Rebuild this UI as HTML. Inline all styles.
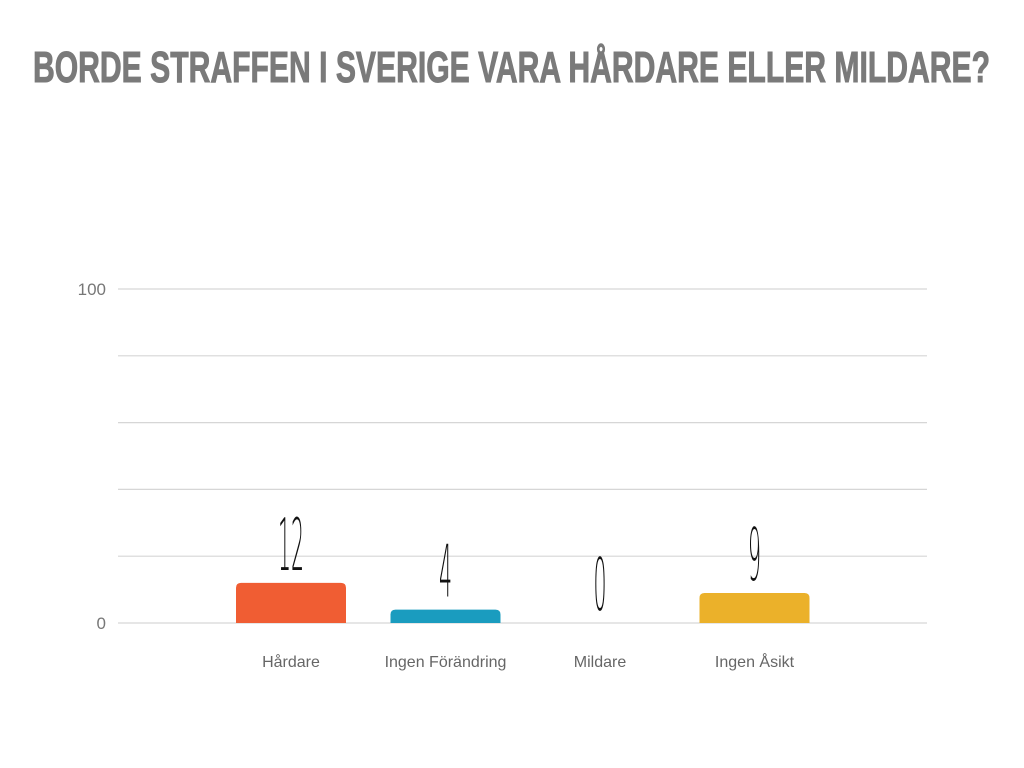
<!DOCTYPE html>
<html><head><meta charset="utf-8"><style>
html,body{margin:0;padding:0;background:#fff;width:1024px;height:768px;overflow:hidden}
</style></head><body>
<svg id="chart" width="1024" height="768" xmlns="http://www.w3.org/2000/svg">
<text x="33" y="82" font-family="'Liberation Sans Narrow','Liberation Sans',sans-serif" font-weight="bold" font-size="44" fill="#7a7a7a" stroke="#7a7a7a" stroke-width="1" textLength="957" lengthAdjust="spacingAndGlyphs">BORDE STRAFFEN I SVERIGE VARA HÅRDARE ELLER MILDARE?</text>
<g id="grid"></g><g id="bars"></g>
</svg>
<script>
const categories=["Hårdare","Ingen Förändring","Mildare","Ingen Åsikt"];
const values=[12,4,0,9];
const colors=["#f05d33","#1a9cbf","#999999","#ebb12a"];
const gridTicks=[0,20,40,60,80,100];
const tickLabels=["0","100"];
const NS="http://www.w3.org/2000/svg";
const svg=document.getElementById('chart');
const y0=623,y100=289;
function y(v){return y0-(v/100)*(y0-y100);}
function x(i){return 291+i*154.5;}
function el(t,a,p){const e=document.createElementNS(NS,t);for(const k in a)e.setAttribute(k,a[k]);(p||svg).appendChild(e);return e;}
const grid=document.getElementById('grid'),bars=document.getElementById('bars');
gridTicks.forEach(t=>{
 const l=el('line',{x1:118,x2:927,y1:y(t),y2:y(t),stroke:'#d6d6d6','stroke-width':1.2},grid);
 
 
});
tickLabels.forEach(s=>{
 const t=el('text',{x:106,y:y(+s)+6,'text-anchor':'end','font-family':'Liberation Sans,sans-serif','font-size':17,fill:'#777'},grid);
 t.textContent=s;
 
 
});
values.forEach((v,i)=>{
 const cx=x(i);
 if(v>0){
  const r=el('path',{d:`M${cx-55},${y0} V${y(v)+5} Q${cx-55},${y(v)} ${cx-50},${y(v)} H${cx+50} Q${cx+55},${y(v)} ${cx+55},${y(v)+5} V${y0} Z`,fill:colors[i]},bars);
  
  
 }
 const s=String(v);
 const vl=el('text',{x:cx,y:y(v)-13,'text-anchor':'middle','font-family':"'DejaVu Sans ExtraLight','DejaVu Sans',sans-serif",'font-weight':200,'font-size':72,fill:'#111',textLength:s.length*13,lengthAdjust:'spacingAndGlyphs'},bars);
 vl.textContent=s;
 
 
 const cl=el('text',{x:cx,y:667,'text-anchor':'middle','font-family':'Liberation Sans,sans-serif','font-size':16,fill:'#666'},bars);
 cl.textContent=categories[i];
 
 
});
</script>
</body></html>
